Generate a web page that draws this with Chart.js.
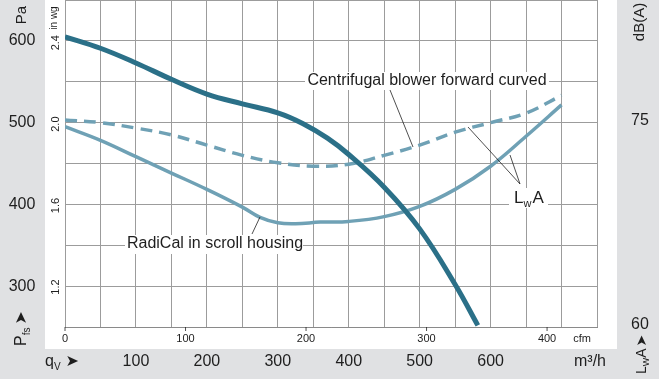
<!DOCTYPE html>
<html>
<head>
<meta charset="utf-8">
<script src="https://cdn.jsdelivr.net/npm/chart.js@4.4.1/dist/chart.umd.min.js"></script>
<style>
  html, body { margin: 0; padding: 0; background: #e0e1e3; }
  #wrap { width: 659px; height: 379px; }
</style>
</head>
<body>
<div id="wrap"><canvas id="chart" width="659" height="379"></canvas></div>
<script>
// flow in m3/h, pressure in Pa, sound in dB(A)
var flowPressure = [0, 50, 100, 150, 200, 250, 300, 335, 370, 400, 450, 500, 550, 582];
var pressurePa = [605, 591, 573, 553, 535, 523, 512, 499, 481, 461, 421, 370, 302, 252];

var flowRadical = [0, 50, 100, 150, 200, 250, 275, 300, 325, 360, 400, 450, 500, 550, 600, 650, 700];
var soundRadical = [74.7, 73.7, 72.5, 71.3, 70.1, 68.8, 68.05, 67.65, 67.58, 67.7, 67.75, 68.1, 68.85, 70.1, 71.8, 74.0, 76.3];

var flowBlower = [0, 50, 100, 150, 200, 250, 300, 350, 400, 450, 500, 550, 600, 650, 700];
var soundBlower = [75.2, 75.0, 74.6, 74.1, 73.35, 72.6, 72.05, 71.8, 71.95, 72.6, 73.35, 74.3, 75.0, 75.7, 77.0];

var paTicks = [600, 500, 400, 300];
var inwgTicks = [2.4, 2.0, 1.6, 1.2];
var dbTicks = [75, 60];
var m3hTicks = [100, 200, 300, 400, 500, 600];
var cfmTicks = [0, 100, 200, 300, 400];

var dark = "#2b7088";
var light = "#6fa1b5";
var narrow = "'Liberation Sans Narrow', 'Liberation Sans', Arial, sans-serif";

function pts(xs, ys){
    var out = [];
    for(var i = 0; i < xs.length; i++){
        out.push({x: xs[i], y: ys[i]});
    }
    return out;
}

function txt(ctx, s, x, y, size, align, rot){
    ctx.save();
    ctx.translate(x, y);
    if(rot) ctx.rotate(rot);
    ctx.font = size + "px " + narrow;
    ctx.fillStyle = "#1e1e1e";
    ctx.textAlign = align || "center";
    ctx.textBaseline = "middle";
    ctx.fillText(s, 0, 0);
    ctx.restore();
}

function line(ctx, x1, y1, x2, y2){
    ctx.save();
    ctx.strokeStyle = "#222";
    ctx.lineWidth = 0.8;
    ctx.beginPath();
    ctx.moveTo(x1, y1);
    ctx.lineTo(x2, y2);
    ctx.stroke();
    ctx.restore();
}

function whiteBox(ctx, x1, y1, x2, y2){
    ctx.save();
    ctx.fillStyle = "#ffffff";
    ctx.fillRect(x1, y1, x2 - x1, y2 - y1);
    ctx.restore();
}

// label with a subscript, written along +x of the current transform
function subLabel(ctx, parts, size){
    var x = 0;
    for(var i = 0; i < parts.length; i++){
        var p = parts[i];
        var fs = p.sub ? Math.round(size * 0.62) : size;
        ctx.font = fs + "px " + (p.arrow ? "'DejaVu Sans'" : narrow);
        ctx.fillText(p.t, x, p.sub ? size * 0.22 : 0);
        x += ctx.measureText(p.t).width + (p.gap || 0);
    }
}

var backdrop = {
    id: "backdrop",
    beforeDraw: function(chart){
        var ctx = chart.ctx;
        var a = chart.chartArea;
        ctx.save();
        ctx.fillStyle = "#e0e1e3";
        ctx.fillRect(0, 0, chart.width, chart.height);
        ctx.fillStyle = "#ffffff";
        ctx.fillRect(a.left - 20, 0, a.right - a.left + 40, a.bottom + 22);
        ctx.restore();
    },
    beforeDatasetsDraw: function(chart){
        var ctx = chart.ctx;
        // boxes behind the callouts cut the grid
        whiteBox(ctx, 305, 72, 549, 90);
        whiteBox(ctx, 125, 235, 303, 254);
        whiteBox(ctx, 509, 188, 548, 208);
    },
    afterDraw: function(chart){
        var ctx = chart.ctx;
        var xs = chart.scales.x;
        var ys = chart.scales.y;
        var ds = chart.scales.y2;
        var a = chart.chartArea;
        var i, px;

        // left pressure labels
        txt(ctx, "Pa", 22, 15, 15, "center", -Math.PI / 2);
        for(i = 0; i < paTicks.length; i++){
            txt(ctx, String(paTicks[i]), 22, ys.getPixelForValue(paTicks[i]), 16, "center");
        }
        txt(ctx, "in wg", 54, 18, 10, "center", -Math.PI / 2);
        for(i = 0; i < inwgTicks.length; i++){
            txt(ctx, inwgTicks[i].toFixed(1), 56, ys.getPixelForValue(inwgTicks[i] * 249.09), 11, "center", -Math.PI / 2);
        }

        // P fs arrow
        ctx.save();
        ctx.fillStyle = "#1e1e1e";
        ctx.textBaseline = "alphabetic";
        ctx.translate(26, 346);
        ctx.rotate(-Math.PI / 2);
        subLabel(ctx, [{t: "P"}, {t: "fs", sub: true, gap: 3}, {t: "\u27A4", arrow: true}], 16);
        ctx.restore();

        // cfm scale under the plot
        for(i = 0; i < cfmTicks.length; i++){
            px = xs.getPixelForValue(cfmTicks[i] * 1.699);
            line(ctx, px, a.bottom, px, a.bottom + 4);
            txt(ctx, String(cfmTicks[i]), px, a.bottom + 12, 11, "center");
        }
        txt(ctx, "cfm", 582, a.bottom + 12, 11, "center");

        // m3/h scale in the bottom strip
        for(i = 0; i < m3hTicks.length; i++){
            txt(ctx, String(m3hTicks[i]), xs.getPixelForValue(m3hTicks[i]), 362, 16, "center");
        }
        txt(ctx, "m\u00B3/h", 590, 362, 16, "center");
        ctx.save();
        ctx.fillStyle = "#1e1e1e";
        ctx.textBaseline = "alphabetic";
        ctx.translate(45, 366);
        subLabel(ctx, [{t: "q"}, {t: "V", sub: true, gap: 5}, {t: "\u27A4", arrow: true}], 16);
        ctx.restore();

        // right sound scale
        txt(ctx, "dB(A)", 640, 22, 15, "center", -Math.PI / 2);
        for(i = 0; i < dbTicks.length; i++){
            txt(ctx, String(dbTicks[i]), 640, ds.getPixelForValue(dbTicks[i]) - 2, 16, "center");
        }
        ctx.save();
        ctx.fillStyle = "#1e1e1e";
        ctx.textBaseline = "alphabetic";
        ctx.translate(646, 374);
        ctx.rotate(-Math.PI / 2);
        subLabel(ctx, [{t: "L"}, {t: "W", sub: true}, {t: "A", gap: 2}, {t: "\u27A4", arrow: true}], 14);
        ctx.restore();

        // callouts
        txt(ctx, "Centrifugal blower forward curved", 427, 81, 16, "center");
        line(ctx, 390, 90, 413, 147);
        txt(ctx, "RadiCal in scroll housing", 215, 244, 16, "center");
        line(ctx, 252, 234, 260, 217);
        ctx.save();
        ctx.fillStyle = "#1e1e1e";
        ctx.textBaseline = "alphabetic";
        ctx.translate(514, 203);
        subLabel(ctx, [{t: "L"}, {t: "w", sub: true, gap: 1}, {t: "A"}], 17);
        ctx.restore();
        line(ctx, 520, 184, 468, 127);
        line(ctx, 520, 184, 510, 155);
    }
};

var ctx = document.getElementById("chart");

var chart = new Chart(ctx, {
    type: "line",
    data: {
        datasets: [
            {
                data: pts(flowPressure, pressurePa),
                yAxisID: "y",
                borderColor: dark,
                borderWidth: 5,
                pointRadius: 0,
                tension: 0.4,
                fill: false
            },
            {
                data: pts(flowRadical, soundRadical),
                yAxisID: "y2",
                borderColor: light,
                borderWidth: 3.5,
                pointRadius: 0,
                tension: 0.4,
                fill: false
            },
            {
                data: pts(flowBlower, soundBlower),
                yAxisID: "y2",
                borderColor: light,
                borderWidth: 3.5,
                borderDash: [12, 7],
                pointRadius: 0,
                tension: 0.4,
                fill: false
            }
        ]
    },
    options: {
        responsive: false,
        animation: false,
        devicePixelRatio: 1,
        layout: { padding: { left: 65, right: 62, top: 0, bottom: 52 } },
        plugins: { legend: { display: false }, tooltip: { enabled: false } },
        scales: {
            x: {
                type: "linear",
                min: 0,
                max: 750,
                ticks: { display: false, stepSize: 50 },
                grid: { color: "#9c9c9c", lineWidth: 1, drawTicks: false },
                border: { display: true, color: "#8a8a8a" }
            },
            y: {
                position: "left",
                min: 250,
                max: 650,
                ticks: { display: false, stepSize: 50 },
                grid: { color: "#9c9c9c", lineWidth: 1, drawTicks: false },
                border: { display: false }
            },
            y2: {
                position: "right",
                display: false,
                min: 60,
                max: 84
            }
        }
    },
    plugins: [backdrop]
});
</script>
</body>
</html>
